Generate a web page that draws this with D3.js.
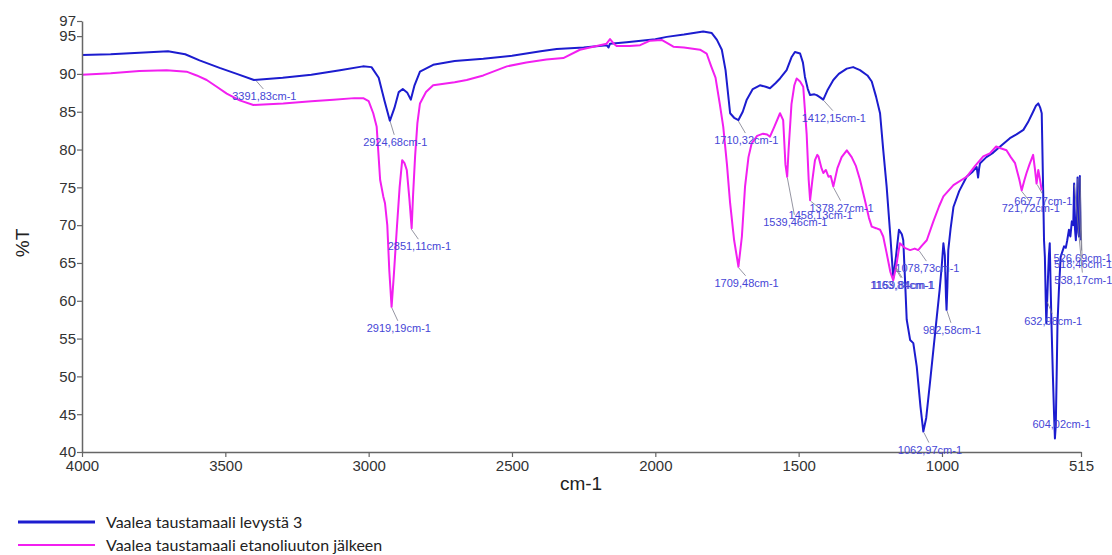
<!DOCTYPE html>
<html>
<head>
<meta charset="utf-8">
<script src="https://cdn.jsdelivr.net/npm/d3@7"></script>
<style>
  body { margin: 0; background: #fff; }
  svg { display: block; }
</style>
</head>
<body>
<script>
// wavenumber (cm-1) and transmittance (%T)
var blueWn = [4000,3900,3800,3700,3640,3590,3520,3460,3400,3300,3200,3100,3020,2990,2965,2945,2926,2910,2895,2881,2865,2853,2840,2821,2775,2700,2600,2500,2400,2344,2250,2170,2163,2158,2100,2000,1960,1900,1833,1803,1785,1768,1755,1739,1725,1710,1695,1681,1660,1635,1615,1600,1580,1565,1542,1525,1513,1495,1485,1478,1468,1460,1445,1437,1425,1414,1400,1379,1360,1332,1310,1286,1260,1245,1230,1216,1205,1193,1180,1170,1160,1150,1140,1135,1128,1123,1111,1100,1088,1075,1065,1055,1042,1030,1018,1008,1001,995,990,986,984,981,978,970,960,940,914,895,879,874,870,867,845,821,800,763,740,716,700,682,672,664,657,652,647,644,641,638,636,633,630,627,624,621,618,613,609,606,603,600,597,592,586,580,574,568,563,557,552,547,542,539,536,533,530,527,524,522,519,517,515];
var blueT = [92.5,92.6,92.8,93.0,92.6,91.8,90.8,90.0,89.2,89.5,89.9,90.5,91.0,90.9,89.5,86.5,83.8,85.5,87.6,88.0,87.5,86.6,88.5,90.3,91.2,91.7,92.0,92.4,93.0,93.3,93.5,93.8,93.5,94.0,94.2,94.6,94.9,95.2,95.6,95.4,94.5,93.2,90.5,84.8,84.2,83.9,85.0,86.6,88.0,88.5,88.3,88.1,88.8,89.4,90.5,92.2,92.9,92.7,91.5,89.6,88.0,87.2,87.3,87.2,86.9,86.6,87.8,89.2,90.0,90.7,90.9,90.5,89.8,89.0,87.0,84.8,80.0,75.1,68.5,63.0,66.0,69.4,68.8,68.0,62.0,57.5,54.8,54.4,51.3,46.0,42.7,44.5,49.1,53.5,57.9,61.5,64.5,67.6,66.0,60.5,58.8,62.0,66.7,69.5,72.4,74.5,76.4,77.0,77.7,76.3,77.6,78.2,79.0,79.6,80.3,81.5,82.0,82.6,83.6,85.0,85.8,86.1,85.5,84.8,74.6,68.0,65.8,60.0,57.0,60.0,63.2,66.0,67.6,62.0,57.0,50.0,45.0,41.8,43.5,50.0,57.0,61.5,65.8,66.5,67.2,67.0,68.0,69.4,68.5,70.5,70.0,75.5,69.5,68.0,70.5,76.3,69.0,68.5,76.5,69.5,68.0];

var pinkWn = [4000,3900,3800,3705,3635,3600,3565,3530,3495,3450,3402,3350,3298,3200,3123,3050,3019,3000,2984,2972,2960,2949,2943,2935,2928,2920,2912,2902,2892,2883,2875,2867,2858,2850,2845,2838,2830,2821,2800,2775,2700,2658,2600,2518,2450,2380,2321,2263,2193,2170,2158,2145,2135,2090,2053,2018,1978,1955,1937,1900,1844,1821,1805,1790,1775,1763,1750,1739,1725,1710,1698,1687,1675,1664,1645,1624,1610,1600,1585,1565,1554,1546,1540,1535,1525,1515,1507,1495,1484,1472,1465,1460,1452,1443,1435,1431,1420,1414,1405,1396,1388,1379,1365,1350,1332,1315,1300,1286,1270,1255,1245,1230,1216,1205,1193,1180,1170,1160,1147,1130,1111,1095,1083,1070,1053,1030,1010,995,960,914,885,856,833,811,798,775,760,745,730,722,712,705,695,682,676,670,664,658,652];
var pinkT = [89.9,90.1,90.4,90.5,90.3,89.8,89.2,88.3,87.4,86.5,85.9,86.0,86.1,86.4,86.6,86.8,86.8,86.4,84.8,83.0,76.0,73.8,72.9,70.0,64.0,59.2,63.5,69.4,75.0,78.6,78.2,77.3,73.5,69.6,74.0,79.1,83.5,86.1,87.6,88.5,88.9,89.2,89.8,91.0,91.5,91.9,92.1,93.2,93.8,94.0,94.6,94.0,93.7,93.7,93.8,94.4,94.5,94.0,93.6,93.5,93.2,92.7,91.0,89.5,86.0,83.0,78.0,72.9,68.0,64.5,68.5,75.1,79.0,80.8,81.8,82.1,82.0,81.7,83.0,84.8,83.9,78.0,76.4,80.0,86.0,88.5,89.4,89.0,88.3,82.0,76.0,73.3,76.0,78.6,79.3,79.1,77.5,76.9,77.3,76.4,76.5,75.1,77.5,79.0,79.9,79.0,77.8,76.0,73.5,71.0,69.8,69.6,69.4,68.5,66.3,63.8,62.7,64.5,67.6,67.0,66.7,66.9,66.7,67.3,68.0,70.5,72.5,73.8,75.3,76.4,77.8,79.1,79.5,80.4,80.2,79.9,79.0,78.2,76.0,74.6,76.0,76.9,78.0,79.3,77.5,75.5,77.3,76.0,74.6];

// peak annotations: wavenumber, which spectrum, label text
var peakWn = [3391.83,2924.68,2851.11,2919.19,1710.32,1412.15,1709.48,1539.46,1458.13,1378.27,1078.73,1163.84,1159.84,982.58,1062.97,632.98,604.02,667.77,721.72,526.69,518.46,538.17];
var peakSeries = ["b","b","p","p","b","b","p","p","p","p","p","p","p","b","b","b","b","p","p","b","b","b"];
var peakText = ["3391,83cm-1","2924,68cm-1","2851,11cm-1","2919,19cm-1","1710,32cm-1","1412,15cm-1","1709,48cm-1","1539,46cm-1","1458,13cm-1","1378,27cm-1","1078,73cm-1","1163,84cm-1","1159,84cm-1","982,58cm-1","1062,97cm-1","632,98cm-1","604,02cm-1","667,77cm-1","721,72cm-1","526,69cm-1","518,46cm-1","538,17cm-1"];

var xTicks = [4000,3500,3000,2500,2000,1500,1000,515];
var yTicks = [40,45,50,55,60,65,70,75,80,85,90,95,97];

var legendNames = ["Vaalea taustamaali levystä 3", "Vaalea taustamaali etanoliuuton jälkeen"];

var blueColor = "#1c1ccf";
var pinkColor = "#f21ff0";

var svgWidth = 1112;
var svgHeight = 555;
var margin = {top: 21, left: 82, right: 31, bottom: 103};
var width = svgWidth - margin.left - margin.right;
var height = svgHeight - margin.top - margin.bottom;

var svg = d3.select("body").append("svg")
  .attr("width", svgWidth)
  .attr("height", svgHeight)
  .style("font-family", "'Liberation Sans', Arial, sans-serif");

var chart = svg.append("g")
  .attr("transform", `translate(${margin.left}, ${margin.top})`);

var x = d3.scaleLinear().domain([4000, 515]).range([0, width]);
var y = d3.scaleLinear().domain([40, 97]).range([height, 0]);

var blue = blueWn.map(function(w, i) { return [w, blueT[i]]; });
var pink = pinkWn.map(function(w, i) { return [w, pinkT[i]]; });

var line = d3.line()
  .x(function(d) { return x(d[0]); })
  .y(function(d) { return y(d[1]); });

chart.append("path").datum(blue)
  .attr("fill", "none").attr("stroke", blueColor).attr("stroke-width", 2)
  .attr("stroke-linejoin", "round").attr("d", line);

chart.append("path").datum(pink)
  .attr("fill", "none").attr("stroke", pinkColor).attr("stroke-width", 2)
  .attr("stroke-linejoin", "round").attr("d", line);

// axes
var xAxis = chart.append("g")
  .attr("transform", `translate(0, ${height})`)
  .call(d3.axisBottom(x).tickValues(xTicks).tickFormat(d3.format("d")).tickSize(5).tickSizeOuter(0).tickPadding(3));

var yAxis = chart.append("g")
  .call(d3.axisLeft(y).tickValues(yTicks).tickSize(5).tickSizeOuter(0).tickPadding(1));

[xAxis, yAxis].forEach(function(a) {
  a.select(".domain").attr("stroke", "#666").attr("stroke-width", 1.5);
  a.selectAll(".tick line").attr("stroke", "#666").attr("stroke-width", 1.2);
  a.selectAll(".tick text").attr("fill", "#333").style("font-size", "15px").style("font-family", "'Liberation Sans', Arial, sans-serif");
});

svg.append("text")
  .attr("x", 581).attr("y", 490)
  .attr("text-anchor", "middle")
  .style("font-size", "19px").attr("fill", "#222")
  .text("cm-1");

svg.append("text")
  .attr("transform", "translate(29, 243) rotate(-90)")
  .attr("text-anchor", "middle")
  .style("font-size", "19px").attr("fill", "#222")
  .text("%T");

// peak labels
var labelOffsets = [[8,16],[5,21],[8,18],[7,21],[8,20],[10,18],[8,16],[8,45],[10,15],[8,21],[8,18],[7,18],[7,18],[5,20],[6,18],[6,20],[6,-2],[6,17],[9,18],[5,80],[3,88],[9,96]];

function peakT(w, s) {
  var wn = s === "b" ? blueWn : pinkWn;
  var tv = s === "b" ? blueT : pinkT;
  var best = 0;
  wn.forEach(function(v, i) { if (Math.abs(v - w) < Math.abs(wn[best] - w)) best = i; });
  return tv[best];
}

var labels = chart.append("g");
peakWn.forEach(function(w, i) {
  var px = x(w), py = y(peakT(w, peakSeries[i]));
  var off = labelOffsets[i];
  var tx = px + off[0], ty = py + off[1];
  if (off[1] > 4) {
    labels.append("line")
      .attr("x1", px).attr("y1", py + 1)
      .attr("x2", tx - 1).attr("y2", ty - 7)
      .attr("stroke", "#7a7a8a").attr("stroke-width", 0.8);
  }
  labels.append("text")
    .attr("x", tx).attr("y", ty + 4)
    .attr("text-anchor", "middle")
    .style("font-size", "11px")
    .attr("fill", "#4646d6")
    .text(peakText[i]);
});

// legend
var legend = svg.append("g");
[blueColor, pinkColor].forEach(function(c, i) {
  var ly = 522 + i * 23;
  legend.append("line")
    .attr("x1", 18).attr("x2", 95).attr("y1", ly).attr("y2", ly)
    .attr("stroke", c).attr("stroke-width", i === 0 ? 3 : 1.8);
  legend.append("text")
    .attr("x", 106).attr("y", ly + 6)
    .style("font-size", "16px").style("font-family", "Lato, 'Open Sans', sans-serif")
    .attr("fill", "#222")
    .text(legendNames[i]);
});
</script>
</body>
</html>
